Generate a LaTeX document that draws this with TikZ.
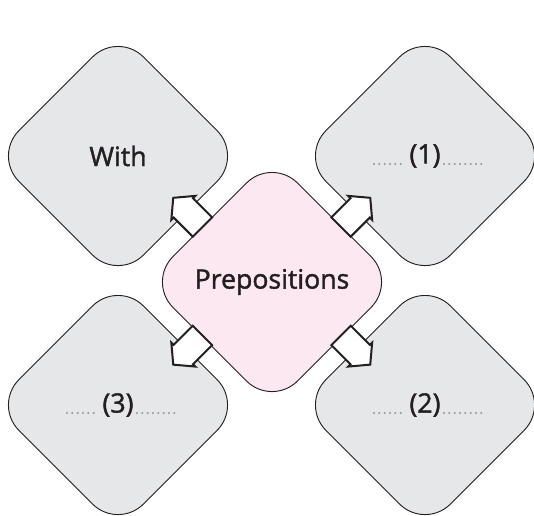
\documentclass[tikz,border=0pt]{standalone}
\usepackage{fontspec}
\setmainfont{Open Sans}[FakeBold=1.5]
\usepackage{tikz}
\usetikzlibrary{shapes.geometric,shapes.arrows,calc}

\definecolor{boxgrey}{RGB}{230,231,232}
\definecolor{boxpink}{RGB}{252,232,241}
\definecolor{inkdark}{RGB}{35,31,32}
\definecolor{dotgrey}{RGB}{150,150,152}

\tikzset{
  choice/.style={diamond, draw=inkdark, line width=0.7pt, fill=boxgrey,
    minimum width=187pt, minimum height=187pt, inner sep=0pt,
    rounded corners=27pt, text=inkdark, font=\fontsize{20}{23}\selectfont},
  topic/.style={choice, fill=boxpink},
  pointer/.style={single arrow, draw=inkdark, line width=1.5pt, fill=white,
    inner xsep=0pt, inner ysep=9.5pt, minimum height=31pt,
    single arrow head extend=2.5pt, single arrow tip angle=100},
  blank/.style={dotgrey, line width=1.7pt, line cap=round, dash pattern=on 0pt off 4pt}
}

\begin{document}
\begin{tikzpicture}[x=0.75pt,y=0.75pt,yscale=-1,xscale=1]
    \useasboundingbox (0,0) rectangle (534,515);

    \node[choice] (with) at (118,156) {With};
    \node[choice] (one) at (425,156) {(1)};
    \node[choice] (three) at (118,405) {(3)};
    \node[choice] (two) at (425,405) {(2)};
    \node[topic] (prep) at (272,282) {Prepositions};

    % dotted blanks
    \draw[blank] ($(one)+(-51,8)$) -- ($(one)+(-20,8)$);
    \draw[blank] ($(one)+(19,8)$) -- ($(one)+(57,8)$);
    \draw[blank] ($(two)+(-51,8)$) -- ($(two)+(-20,8)$);
    \draw[blank] ($(two)+(19,8)$) -- ($(two)+(57,8)$);
    \draw[blank] ($(three)+(-51,8)$) -- ($(three)+(-20,8)$);
    \draw[blank] ($(three)+(19,8)$) -- ($(three)+(57,8)$);

    % block arrows
    \node[pointer, rotate=135] (pw) at ($(prep)!0.52!(with)$) {};
    \node[pointer, rotate=45] (p1) at ($(prep)!0.52!(one)$) {};
    \node[pointer, rotate=-45] (p2) at ($(prep)!0.52!(two)$) {};
    \node[pointer, rotate=-135] (p3) at ($(prep)!0.52!(three)$) {};
\end{tikzpicture}
\end{document}
